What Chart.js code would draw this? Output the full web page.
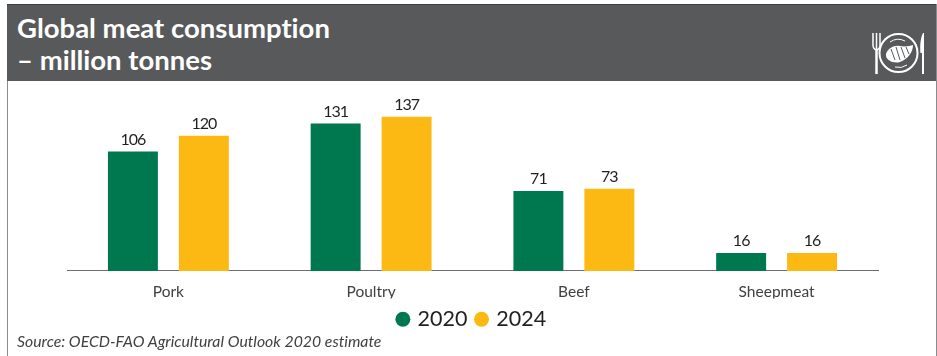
<!DOCTYPE html>
<html>
<head>
<meta charset="utf-8">
<script src="https://cdn.jsdelivr.net/npm/chart.js@4"></script>
<style>
  html, body { margin: 0; padding: 0; background: #fff; }
  #wrap { position: relative; width: 937px; height: 356px; overflow: hidden; font-family: Lato, sans-serif; font-variant-ligatures: none; }
  #frame { position: absolute; left: 7px; top: 4px; width: 928px; height: 352px; border-left: 1px solid #8a8b8d; border-right: 1px solid #8a8b8d; }
  #header { position: absolute; left: 7px; top: 4px; width: 929px; height: 77px; background: #58595b; border-top: 1px solid #3c3d3f; box-sizing: border-box; }
  #title { position: absolute; left: 10px; top: 7px; color: #fff; font-weight: 700; font-size: 27.5px; line-height: 32px; }
  #icon { position: absolute; left: 863px; top: 26px; }
  #source { position: absolute; left: 17px; top: 331px; font-size: 15.8px; font-style: italic; color: #414042; }
  canvas { position: absolute; left: 0; top: 0; }
</style>
</head>
<body>
<div id="wrap">
  <canvas id="meatChart" width="937" height="356"></canvas>
  <div id="frame"></div>
  <div id="header">
    <div id="title">Global meat consumption<br>– million tonnes</div>
    <svg id="icon" width="58" height="44" viewBox="0 0 58 44" fill="none" stroke="#fff">
      <path d="M3 2v12q0 4 3.500 5M6.500 2v17M10 2v12q0 4-3.500 5" stroke-width="1.500"/>
      <path d="M6.500 18v25" stroke-width="2.500"/>
      <circle cx="28.500" cy="22" r="19" stroke-width="2"/>
      <path d="M20 11a14.500 14.500 0 0 1 15-1M37 34a14.500 14.500 0 0 1-12 2" stroke-width="1"/>
      <path d="M16 23c2-6 8-9 14-8 5 1 10 0 13-1 0 7-5 14-13 17-7 2-15-2-14-8z" fill="#fff" stroke="none"/>
      <path d="M21 18l4 11M26 16l4 13M31 16l4 11M36 16l3 7" stroke="#58595b" stroke-width="1"/>
      <path d="M53 2c-3 6-3 14-2.500 20h1.500v21h2V2z" fill="#fff" stroke="none"/>
    </svg>
  </div>
  <div id="source">Source: OECD-FAO Agricultural Outlook 2020 estimate</div>
</div>
<script>
const categories = ['Pork', 'Poultry', 'Beef', 'Sheepmeat'];
const values2020 = [106, 131, 71, 16];
const values2024 = [120, 137, 73, 16];

// numbers on top of the bars
const barLabels = {
    id: 'barLabels',
    afterDatasetsDraw(chart) {
        const ctx = chart.ctx;
        ctx.save();
        ctx.font = '16px Lato, sans-serif';
        ctx.letterSpacing = '-1px';
        ctx.fillStyle = '#231f20';
        ctx.textAlign = 'center';
        ctx.textBaseline = 'bottom';
        chart.data.datasets.forEach((ds, i) => {
            chart.getDatasetMeta(i).data.forEach((bar, j) => {
                ctx.fillText(ds.data[j], bar.x, bar.y - 4);
            });
        });
        ctx.restore();
    }
};

new Chart(document.getElementById('meatChart').getContext('2d'), {
    type: 'bar',
    data: {
        labels: categories,
        datasets: [
            { label: '2020', data: values2020, backgroundColor: '#00784f' },
            { label: '2024', data: values2024, backgroundColor: '#fdb913' }
        ]
    },
    options: {
        responsive: false,
        animation: false,
        categoryPercentage: 0.70,
        barPercentage: 0.704,
        layout: { padding: { left: 67, right: 59, top: 102, bottom: 16 } },
        scales: {
            x: {
                // legend sits closer to the labels than chart.js would leave it
                afterFit(scale) { scale.height -= 15; },
                grid: { display: false, drawTicks: false },
                border: { color: '#6d6e71', width: 1 },
                ticks: { color: '#414042', font: { family: 'Lato', size: 15.5 }, padding: 12 }
            },
            y: { display: false, min: 0, max: 150 }
        },
        plugins: {
            tooltip: { enabled: false },
            legend: {
                position: 'bottom',
                fullSize: false,
                labels: {
                    usePointStyle: true,
                    pointStyle: 'circle',
                    boxHeight: 10.6,
                    boxWidth: 8,
                    color: '#231f20',
                    font: { family: 'Lato', size: 21.5 },
                    padding: 10
                }
            }
        }
    },
    plugins: [barLabels]
});
</script>
</body>
</html>
